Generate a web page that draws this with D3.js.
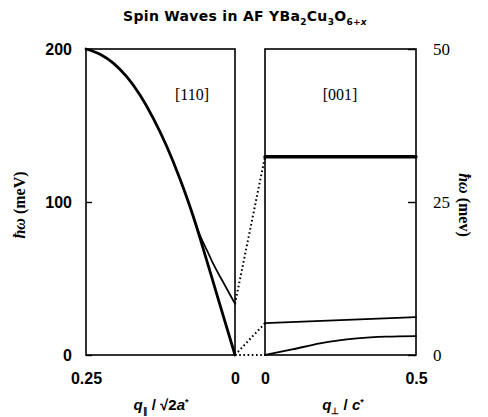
<!DOCTYPE html>
<html><head><meta charset="utf-8">
<script src="https://cdn.jsdelivr.net/npm/d3@7"></script>
<style>
html,body{margin:0;padding:0;background:#fff;}
svg{display:block;}
</style></head>
<body>
<svg id="c" width="488" height="417"></svg>
<script>
// ---- data ----
const leftDomain = [0.25, 0];           // q_par / sqrt2 a*
const rightDomain = [0, 0.5];           // q_perp / c*
const leftYDomain = [0, 200];           // meV
const rightYDomain = [0, 50];           // meV
const leftXTicks = [0.25, 0];
const leftXTickLabels = ["0.25", "0"];
const rightXTicks = [0, 0.5];
const rightXTickLabels = ["0", "0.5"];
const leftYTicks = [0, 100, 200];
const rightYTicks = [0, 25, 50];

// [110] acoustic branch (q, meV)
const mainQ = [0.25, 0.2265, 0.2042, 0.1817, 0.1594, 0.1371, 0.1146, 0.0923, 0.070, 0.0587, 0.03, 0];
const mainE = [200, 196.6, 190.8, 181.9, 169.9, 154.7, 136.4, 115.0, 90.5, 76.4, 39, 0];
// [110] gapped branch
const gapQ = [0.07, 0.0587, 0.045, 0.0364, 0.02, 0];
const gapE = [90.5, 78.2, 66.8, 59.5, 47.7, 33.5];
// [001] branches
const optQ = [0, 0.5];
const optE = [32.4, 32.4];
const midQ = [0, 0.25, 0.5];
const midE = [5.2, 5.7, 6.2];
const lowQ = [0, 0.09, 0.182, 0.304, 0.4, 0.5];
const lowE = [0, 0.9, 1.9, 2.7, 3.0, 3.1];
// dotted connectors: left-panel energy (left scale) -> right-panel energy (right scale), both at q=0
const linkFromE = [33.5, 0, 0];
const linkToE = [32.4, 5.2, 0];

// ---- layout ----
const svg = d3.select("#c");
const plotTop = 49, plotBottom = 355;
const xL = d3.scaleLinear().domain(leftDomain).range([86, 235]);
const xR = d3.scaleLinear().domain(rightDomain).range([265, 416]);
const yL = d3.scaleLinear().domain(leftYDomain).range([plotBottom, plotTop]);
const yR = d3.scaleLinear().domain(rightYDomain).range([plotBottom, plotTop]);

const sans = "'Liberation Sans', Arial, sans-serif";
const serif = "'Liberation Serif', 'Times New Roman', serif";

// title
const title = svg.append("text").attr("x", 245).attr("y", 21).attr("text-anchor", "middle")
  .attr("font-family", "'DejaVu Sans', sans-serif").attr("font-weight", "bold").attr("font-size", 14)
  .attr("letter-spacing", 0.3).attr("fill", "#000");
title.append("tspan").text("Spin Waves in AF  YBa");
title.append("tspan").attr("font-size", 9).attr("dy", 4).text("2");
title.append("tspan").attr("dy", -4).text("Cu");
title.append("tspan").attr("font-size", 9).attr("dy", 4).text("3");
title.append("tspan").attr("dy", -4).text("O");
title.append("tspan").attr("font-size", 9).attr("dy", 4).text("6+");
title.append("tspan").attr("font-size", 9).attr("font-style", "italic").text("x");

// frames
svg.append("rect").attr("x", xL.range()[0]).attr("y", plotTop)
  .attr("width", xL.range()[1] - xL.range()[0]).attr("height", plotBottom - plotTop)
  .attr("fill", "none").attr("stroke", "#000").attr("stroke-width", 1.6);
svg.append("rect").attr("x", xR.range()[0]).attr("y", plotTop)
  .attr("width", xR.range()[1] - xR.range()[0]).attr("height", plotBottom - plotTop)
  .attr("fill", "none").attr("stroke", "#000").attr("stroke-width", 1.6);

function styleAxis(g, font, size, weight) {
  g.select(".domain").remove();
  g.selectAll("text").attr("font-family", font).attr("font-size", size)
    .attr("font-weight", weight).attr("fill", "#000");
  g.selectAll("line").attr("stroke", "#000").attr("stroke-width", 1.4);
}

// left y axis
svg.append("g").attr("transform", `translate(${xL.range()[0]},0)`)
  .call(d3.axisLeft(yL).tickValues(leftYTicks).tickSize(-6).tickPadding(14).tickFormat(d3.format("d")))
  .call(g => styleAxis(g, sans, 16, "bold"));
// right y axis
svg.append("g").attr("transform", `translate(${xR.range()[1]},0)`)
  .call(d3.axisRight(yR).tickValues(rightYTicks).tickSize(-8).tickPadding(17).tickFormat(d3.format("d")))
  .call(g => styleAxis(g, serif, 17, "normal"));
// bottom axes
svg.append("g").attr("transform", `translate(0,${plotBottom})`)
  .call(d3.axisBottom(xL).tickValues(leftXTicks).tickSize(0).tickPadding(18)
    .tickFormat((d, i) => leftXTickLabels[i]))
  .call(g => styleAxis(g, sans, 16, "bold"));
svg.append("g").attr("transform", `translate(0,${plotBottom})`)
  .call(d3.axisBottom(xR).tickValues(rightXTicks).tickSize(0).tickPadding(18)
    .tickFormat((d, i) => rightXTickLabels[i]))
  .call(g => styleAxis(g, sans, 16, "bold"));

// axis titles
const lt = svg.append("text").attr("transform", "translate(25,205) rotate(-90)")
  .attr("text-anchor", "middle").attr("font-family", serif).attr("font-size", 16).attr("font-weight", "bold");
lt.append("tspan").attr("font-style", "italic").text("ħω");
lt.append("tspan").text("  (meV)");
const rt = svg.append("text").attr("transform", "translate(459,205) rotate(90)")
  .attr("text-anchor", "middle").attr("font-family", serif).attr("font-size", 16).attr("font-weight", "bold");
rt.append("tspan").attr("font-style", "italic").text("ħω");
rt.append("tspan").text("  (mev)");

const bl = svg.append("text").attr("x", 161).attr("y", 410).attr("text-anchor", "middle")
  .attr("font-family", sans).attr("font-size", 15).attr("font-weight", "bold");
bl.append("tspan").attr("font-style", "italic").text("q");
bl.append("tspan").attr("font-size", 9).attr("dy", 4).text("∥");
bl.append("tspan").attr("dy", -4).text("  /  √2");
bl.append("tspan").attr("font-style", "italic").text("a");
bl.append("tspan").attr("font-size", 9).attr("dy", -5).text("*");
const br = svg.append("text").attr("x", 343).attr("y", 410).attr("text-anchor", "middle")
  .attr("font-family", sans).attr("font-size", 15).attr("font-weight", "bold");
br.append("tspan").attr("font-style", "italic").text("q");
br.append("tspan").attr("font-size", 9).attr("dy", 4).text("⊥");
br.append("tspan").attr("dy", -4).text("  /  ");
br.append("tspan").attr("font-style", "italic").text("c");
br.append("tspan").attr("font-size", 9).attr("dy", -5).text("*");

// panel labels
svg.append("text").attr("x", 192).attr("y", 100).attr("text-anchor", "middle")
  .attr("font-family", serif).attr("font-size", 16).text("[110]");
svg.append("text").attr("x", 340).attr("y", 100).attr("text-anchor", "middle")
  .attr("font-family", serif).attr("font-size", 16).text("[001]");

// curves
function drawLine(qs, es, xs, ys, width, curve) {
  const pts = qs.map((q, i) => [q, es[i]]);
  svg.append("path").datum(pts)
    .attr("d", d3.line().x(d => xs(d[0])).y(d => ys(d[1])).curve(curve || d3.curveMonotoneX))
    .attr("fill", "none").attr("stroke", "#000").attr("stroke-width", width)
    .attr("stroke-linejoin", "round").attr("stroke-linecap", "round");
}
drawLine(mainQ, mainE, xL, yL, 2.8);
drawLine(gapQ, gapE, xL, yL, 1.7);
drawLine(optQ, optE, xR, yR, 3.4, d3.curveLinear);
drawLine(midQ, midE, xR, yR, 1.8);
drawLine(lowQ, lowE, xR, yR, 1.8);

// dotted connectors
linkFromE.forEach((e, i) => {
  svg.append("line")
    .attr("x1", xL(0)).attr("y1", yL(e))
    .attr("x2", xR(0)).attr("y2", yR(linkToE[i]))
    .attr("stroke", "#000").attr("stroke-width", 2).attr("stroke-dasharray", "1.6,2.6");
});
</script>
</body></html>
